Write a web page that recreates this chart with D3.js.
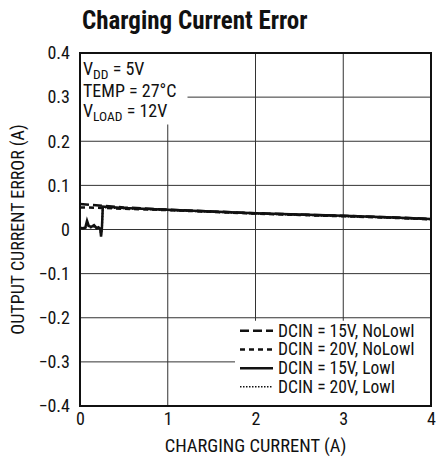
<!DOCTYPE html>
<html>
<head>
<meta charset="utf-8">
<script src="https://cdn.jsdelivr.net/npm/d3@7"></script>
<style>
  body { margin: 0; background: #fff; }
  text { font-family: Roboto, sans-serif; font-stretch: condensed; fill: #111; white-space: pre; }
</style>
</head>
<body>
<svg id="chart" width="436" height="468"></svg>
<script>
var xTicks = [0, 1, 2, 3, 4];
var yTicks = [-0.4, -0.3, -0.2, -0.1, 0, 0.1, 0.2, 0.3, 0.4];

var xNoLow = [0, 0.25, 0.5, 1, 1.5, 2, 2.5, 3, 3.5, 4];
var y15NoLow = [0.058, 0.054, 0.050, 0.045, 0.041, 0.037, 0.034, 0.031, 0.028, 0.024];
var y20NoLow = [0.050, 0.049, 0.047, 0.044, 0.040, 0.036, 0.033, 0.030, 0.027, 0.023];

var xLow = [0, 0.03, 0.06, 0.08, 0.1, 0.13, 0.16, 0.19, 0.21, 0.23, 0.24, 0.25, 0.26, 0.5, 1, 1.5, 2, 2.5, 3, 3.5, 4];
var y15Low = [0.004, 0.003, 0.004, 0.02, 0.008, 0.006, 0.01, 0.003, 0.005, 0.002, -0.016, 0.004, 0.052, 0.049, 0.045, 0.041, 0.037, 0.034, 0.031, 0.028, 0.024];
var y20Low = [0.002, 0.004, 0.002, 0.016, 0.006, 0.004, 0.008, 0.002, 0.004, 0.001, -0.012, 0.002, 0.050, 0.048, 0.044, 0.040, 0.036, 0.033, 0.030, 0.027, 0.023];

var legendLabels = ["DCIN = 15V, NoLowI", "DCIN = 20V, NoLowI", "DCIN = 15V, LowI", "DCIN = 20V, LowI"];
var legendDash = ["9,4", "5,4", null, "1.5,1.5"];

var svg = d3.select("#chart"),
    margin = {top: 53, right: 5, bottom: 62, left: 80},
    width = +svg.attr("width") - margin.left - margin.right,
    height = +svg.attr("height") - margin.top - margin.bottom;

var x = d3.scaleLinear().domain([0, 4]).range([0, width]),
    y = d3.scaleLinear().domain([-0.4, 0.4]).range([height, 0]);

svg.append("text")
    .attr("x", 82).attr("y", 29)
    .style("font-size", "25px").style("font-weight", "bold")
    .text("Charging Current Error");

var g = svg.append("g")
    .attr("transform", "translate(" + margin.left + "," + margin.top + ")");

// grid
g.selectAll(".hgrid").data(yTicks).enter().append("line")
    .attr("x1", 0).attr("x2", width)
    .attr("y1", function(d) { return y(d); }).attr("y2", function(d) { return y(d); })
    .attr("stroke", "#333").attr("stroke-width", 1);
g.selectAll(".vgrid").data(xTicks).enter().append("line")
    .attr("y1", 0).attr("y2", height)
    .attr("x1", function(d) { return x(d); }).attr("x2", function(d) { return x(d); })
    .attr("stroke", "#333").attr("stroke-width", 1);

var line = d3.line()
    .x(function(d) { return x(d[0]); })
    .y(function(d) { return y(d[1]); });

function zip(xs, ys) { return xs.map(function(v, i) { return [v, ys[i]]; }); }

g.append("path").datum(zip(xLow, y20Low))
    .attr("d", line).attr("fill", "none").attr("stroke", "#111")
    .attr("stroke-width", 2).attr("stroke-dasharray", "1.5,1.5");
g.append("path").datum(zip(xLow, y15Low))
    .attr("d", line).attr("fill", "none").attr("stroke", "#111")
    .attr("stroke-width", 2.5);
g.append("path").datum(zip(xNoLow, y20NoLow))
    .attr("d", line).attr("fill", "none").attr("stroke", "#111")
    .attr("stroke-width", 2.5).attr("stroke-dasharray", "5,4");
g.append("path").datum(zip(xNoLow, y15NoLow))
    .attr("d", line).attr("fill", "none").attr("stroke", "#111")
    .attr("stroke-width", 2.5).attr("stroke-dasharray", "9,4");

// condition box
g.append("rect").attr("x", 0.5).attr("y", 0.5).attr("width", 107).attr("height", 71).attr("fill", "#fff");
function subLabel(yy, main, sub, rest) {
  var a = g.append("text").attr("x", 3).attr("y", yy).style("font-size", "18px").text(main);
  var w = a.node().getComputedTextLength();
  var b = g.append("text").attr("x", 3 + w).attr("y", yy + 3.5).style("font-size", "13.5px").text(sub);
  var w2 = b.node().getComputedTextLength();
  g.append("text").attr("x", 3 + w + w2).attr("y", yy).style("font-size", "18px").text(rest);
}
subLabel(22, "V", "DD", " = 5V");
g.append("text").attr("x", 3).attr("y", 44).style("font-size", "18px").text("TEMP = 27°C");
subLabel(64, "V", "LOAD", " = 12V");

// legend
var lgX = 155, lgY = y(-0.2) + 3;
g.append("rect").attr("x", lgX).attr("y", lgY).attr("width", width - lgX).attr("height", height - lgY).attr("fill", "#fff");
var lg = g.selectAll(".lg").data(legendLabels).enter().append("g")
    .attr("transform", function(d, i) { return "translate(" + (lgX + 5) + "," + (lgY + 16 + i * 18.7) + ")"; });
lg.append("line").attr("x1", 0).attr("x2", 33).attr("y1", -6).attr("y2", -6)
    .attr("stroke", "#111")
    .attr("stroke-width", function(d, i) { return i === 3 ? 1.5 : 2.5; })
    .attr("stroke-dasharray", function(d, i) { return legendDash[i]; });
lg.append("text").attr("x", 38).attr("y", 0).style("font-size", "17.5px").text(function(d) { return d; });

// frame
g.append("rect").attr("x", 0).attr("y", 0).attr("width", width).attr("height", height)
    .attr("fill", "none").attr("stroke", "#111").attr("stroke-width", 2);

// axes
var fmt = function(d) { return d === 0 ? "0" : d3.format(".1f")(d).replace("-", "\u2212"); };
var yAxis = g.append("g").call(d3.axisLeft(y).tickValues(yTicks).tickSize(0).tickPadding(10).tickFormat(fmt));
yAxis.select(".domain").remove();
yAxis.selectAll("text").style("font-size", "18px").style("font-family", null);
var xAxis = g.append("g").attr("transform", "translate(0," + height + ")")
    .call(d3.axisBottom(x).tickValues(xTicks).tickSize(0).tickPadding(6).tickFormat(d3.format("d")));
xAxis.select(".domain").remove();
xAxis.selectAll("text").style("font-size", "18px").style("font-family", null);

svg.append("text")
    .attr("x", margin.left + width / 2).attr("y", 452)
    .attr("text-anchor", "middle").style("font-size", "18.5px")
    .text("CHARGING CURRENT (A)");
svg.append("text")
    .attr("transform", "translate(24," + (margin.top + height / 2) + ") rotate(-90)")
    .attr("text-anchor", "middle").style("font-size", "18px")
    .text("OUTPUT CURRENT ERROR (A)");
</script>
</body>
</html>
